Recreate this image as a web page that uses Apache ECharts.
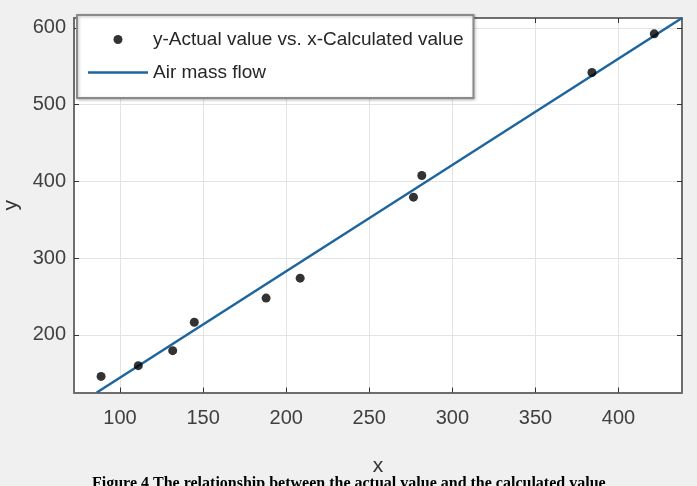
<!DOCTYPE html>
<html>
<head>
<meta charset="utf-8">
<script src="https://cdn.jsdelivr.net/npm/echarts@6/dist/echarts.min.js"></script>
<style>
  html, body { margin: 0; padding: 0; background: #f0f0f0; }
  #chart { width: 697px; height: 486px; }
</style>
</head>
<body>
<div id="chart"></div>
<script>
// measured points: x = calculated, y = actual
var pointX = [88.6, 111.0, 131.7, 144.7, 187.9, 208.4, 276.6, 281.6, 384.0, 421.5];
var pointY = [146, 160, 179.5, 216.5, 248, 274, 379.5, 407.7, 542, 592.4];
// fitted line end points
var lineX = [86, 438.2];
var lineY = [125, 613];
var xTicks = [100, 150, 200, 250, 300, 350, 400];
var yTicks = [200, 300, 400, 500, 600];
var seriesNames = ['y-Actual value vs. x-Calculated value', 'Air mass flow'];
var caption = 'Figure 4 The relationship between the actual value and the calculated value';

var chart = echarts.init(document.getElementById('chart'));

var font = 'Liberation Sans, Arial, sans-serif';

function axisBase(extra) {
    var a = {
        type: 'value',
        axisLine: { show: true, lineStyle: { color: '#6e6e6e', width: 2 } },
        axisTick: { show: true, inside: true, length: 5, lineStyle: { color: '#333', width: 1 } },
        splitLine: { show: false },
        axisLabel: { show: false }
    };
    for (var k in extra) a[k] = extra[k];
    return a;
}

var option = {
    backgroundColor: '#f0f0f0',
    animation: false,
    grid: {
        left: 74, right: 15, top: 18, bottom: 93.5,
        outerBoundsMode: 'none', containLabel: false,
        show: true, backgroundColor: '#fff', borderWidth: 0
    },
    legend: {
        orient: 'vertical',
        left: 77,
        top: 15,
        padding: [15, 10, 16, 11],
        itemGap: 14,
        itemWidth: 60,
        itemHeight: 9,
        backgroundColor: '#fff',
        borderColor: '#8a8a8a',
        borderWidth: 2,
        shadowColor: 'rgba(0,0,0,0.25)',
        shadowBlur: 3,
        shadowOffsetX: 1,
        shadowOffsetY: 1,
        textStyle: { fontSize: 19, color: '#262626', fontFamily: font },
        data: [
            { name: seriesNames[0], icon: 'circle', itemStyle: { color: '#000' } },
            { name: seriesNames[1], icon: 'path://M0,0 L60,0 L60,2.5 L0,2.5 Z', itemStyle: { color: '#1d659f' } }
        ]
    },
    xAxis: [
        axisBase({
            min: 72.3, max: 438.2,
            name: 'x', nameLocation: 'middle', nameGap: 63,
            nameTextStyle: { fontSize: 21, color: '#333', fontFamily: font },
            axisTick: { show: true, inside: true, length: 5, customValues: xTicks, lineStyle: { color: '#333' } },
            axisLabel: { show: true, customValues: xTicks, margin: 16, fontSize: 20, color: '#404040', fontFamily: font },
            splitLine: { show: true, lineStyle: { color: '#e3e3e3', width: 1 } }
        }),
        axisBase({
            min: 72.3, max: 438.2, position: 'top',
            axisTick: { show: true, inside: true, length: 5, customValues: xTicks, lineStyle: { color: '#333' } }
        })
    ],
    yAxis: [
        axisBase({
            min: 125, max: 613,
            name: 'y', nameLocation: 'middle', nameGap: 52,
            nameTextStyle: { fontSize: 21, color: '#333', fontFamily: font },
            axisTick: { show: true, inside: true, length: 5, customValues: yTicks, lineStyle: { color: '#333' } },
            axisLabel: { show: true, customValues: yTicks, margin: 8, fontSize: 20, color: '#404040', fontFamily: font },
            splitLine: { show: true, lineStyle: { color: '#e3e3e3', width: 1 } }
        }),
        axisBase({
            min: 125, max: 613, position: 'right',
            axisTick: { show: true, inside: true, length: 5, customValues: yTicks, lineStyle: { color: '#333' } }
        })
    ],
    series: [
        {
            name: seriesNames[0],
            type: 'scatter',
            symbol: 'circle',
            symbolSize: 9,
            itemStyle: { color: '#000' },
            data: pointX.map(function (x, i) { return [x, pointY[i]]; }),
            z: 3
        },
        {
            name: seriesNames[1],
            type: 'line',
            symbol: 'none',
            lineStyle: { color: '#1d659f', width: 2.5 },
            itemStyle: { color: '#1d659f' },
            data: lineX.map(function (x, i) { return [x, lineY[i]]; }),
            clip: true,
            z: 2
        }
    ],
    graphic: [
        {
            type: 'text',
            left: 92,
            top: 476,
            style: {
                text: caption,
                font: 'bold 16px "Liberation Serif", "Times New Roman", serif',
                fill: '#000'
            }
        }
    ]
};

chart.setOption(option);
</script>
</body>
</html>
